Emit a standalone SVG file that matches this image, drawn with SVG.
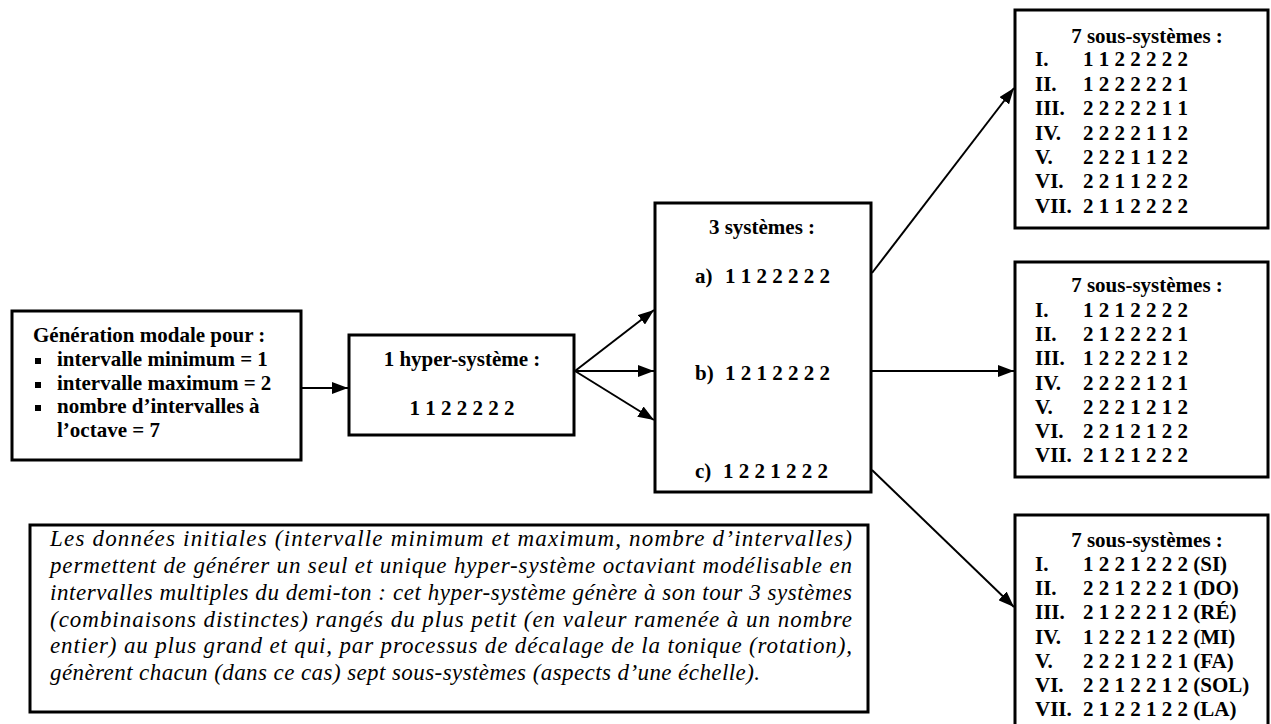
<svg xmlns="http://www.w3.org/2000/svg" width="1271" height="724" viewBox="0 0 1271 724">
<defs>
<style>
.box{fill:#fff;stroke:#000;stroke-width:3}
.b{font-family:"Liberation Serif","Times New Roman",serif;font-weight:bold;font-size:21px;fill:#000}
.c{text-anchor:middle}
.it{font-family:"Liberation Serif","Times New Roman",serif;font-style:italic;font-size:23px;fill:#000}
.conn line{stroke:#000;stroke-width:2;marker-end:url(#ah)}
</style>
<marker id="ah" markerWidth="16" markerHeight="12" refX="16" refY="6" orient="auto" markerUnits="userSpaceOnUse"><path d="M0,0 L16,6 L0,12 z" fill="#000"/></marker>
</defs>
<rect width="1271" height="724" fill="#fff"/>
<g class="conn" id="connectors">
<line x1="301" y1="388" x2="348" y2="388"/>
<line x1="575" y1="371" x2="654" y2="310"/>
<line x1="575" y1="371" x2="654" y2="371"/>
<line x1="575" y1="371" x2="654" y2="420"/>
<line x1="872" y1="273" x2="1014" y2="88"/>
<line x1="871" y1="371" x2="1014" y2="371"/>
<line x1="872" y1="470" x2="1014" y2="607"/>
</g>
<g id="generation">
<rect class="box" x="12" y="311" width="289" height="149"/>
<text class="b" x="33" y="342">Génération modale pour :</text>
<rect x="35" y="358" width="6" height="6"/>
<rect x="35" y="382" width="6" height="6"/>
<rect x="35" y="405" width="6" height="6"/>
<text class="b" x="57" y="366">intervalle minimum = 1</text>
<text class="b" x="57" y="390">intervalle maximum = 2</text>
<text class="b" x="57" y="413">nombre d’intervalles à</text>
<text class="b" x="57" y="437">l’octave = 7</text>
</g>
<g id="hyper">
<rect class="box" x="349" y="335" width="225" height="100"/>
<text class="b c" x="462" y="366">1 hyper-système :</text>
<text class="b c" x="462" y="415">1 1 2 2 2 2 2</text>
</g>
<g id="systemes">
<rect class="box" x="655" y="203" width="216" height="289"/>
<text class="b c" x="762" y="234">3 systèmes :</text>
<text class="b" x="695" y="283">a)</text><text class="b" x="725" y="283">1 1 2 2 2 2 2</text>
<text class="b" x="695" y="380">b)</text><text class="b" x="725" y="380">1 2 1 2 2 2 2</text>
<text class="b" x="695" y="478">c)</text><text class="b" x="723" y="478">1 2 2 1 2 2 2</text>
</g>
<g id="sous1">
<rect class="box" x="1015" y="10" width="253" height="218"/>
<text class="b c" x="1147" y="43">7 sous-systèmes :</text>
<text class="b" x="1035" y="66">I.</text><text class="b" x="1083" y="66">1 1 2 2 2 2 2</text>
<text class="b" x="1035" y="91">II.</text><text class="b" x="1083" y="91">1 2 2 2 2 2 1</text>
<text class="b" x="1035" y="115">III.</text><text class="b" x="1083" y="115">2 2 2 2 2 1 1</text>
<text class="b" x="1035" y="140">IV.</text><text class="b" x="1083" y="140">2 2 2 2 1 1 2</text>
<text class="b" x="1035" y="164">V.</text><text class="b" x="1083" y="164">2 2 2 1 1 2 2</text>
<text class="b" x="1035" y="188">VI.</text><text class="b" x="1083" y="188">2 2 1 1 2 2 2</text>
<text class="b" x="1035" y="213">VII.</text><text class="b" x="1083" y="213">2 1 1 2 2 2 2</text>
</g>
<g id="sous2">
<rect class="box" x="1015" y="262" width="253" height="215"/>
<text class="b c" x="1147" y="292">7 sous-systèmes :</text>
<text class="b" x="1035" y="317">I.</text><text class="b" x="1083" y="317">1 2 1 2 2 2 2</text>
<text class="b" x="1035" y="341">II.</text><text class="b" x="1083" y="341">2 1 2 2 2 2 1</text>
<text class="b" x="1035" y="365">III.</text><text class="b" x="1083" y="365">1 2 2 2 2 1 2</text>
<text class="b" x="1035" y="390">IV.</text><text class="b" x="1083" y="390">2 2 2 2 1 2 1</text>
<text class="b" x="1035" y="414">V.</text><text class="b" x="1083" y="414">2 2 2 1 2 1 2</text>
<text class="b" x="1035" y="438">VI.</text><text class="b" x="1083" y="438">2 2 1 2 1 2 2</text>
<text class="b" x="1035" y="462">VII.</text><text class="b" x="1083" y="462">2 1 2 1 2 2 2</text>
</g>
<g id="sous3">
<rect class="box" x="1015" y="515" width="253" height="220"/>
<text class="b c" x="1147" y="547">7 sous-systèmes :</text>
<text class="b" x="1035" y="571">I.</text><text class="b" x="1083" y="571">1 2 2 1 2 2 2 (SI)</text>
<text class="b" x="1035" y="595">II.</text><text class="b" x="1083" y="595">2 2 1 2 2 2 1 (DO)</text>
<text class="b" x="1035" y="619">III.</text><text class="b" x="1083" y="619">2 1 2 2 2 1 2 (RÉ)</text>
<text class="b" x="1035" y="644">IV.</text><text class="b" x="1083" y="644">1 2 2 2 1 2 2 (MI)</text>
<text class="b" x="1035" y="668">V.</text><text class="b" x="1083" y="668">2 2 2 1 2 2 1 (FA)</text>
<text class="b" x="1035" y="692">VI.</text><text class="b" x="1083" y="692">2 2 1 2 2 1 2 (SOL)</text>
<text class="b" x="1035" y="716">VII.</text><text class="b" x="1083" y="716">2 1 2 2 1 2 2 (LA)</text>
</g>
<g id="note">
<rect class="box" x="30" y="525" width="838" height="187"/>
<text class="it" x="50" y="546" textLength="802" lengthAdjust="spacing">Les données initiales (intervalle minimum et maximum, nombre d’intervalles)</text>
<text class="it" x="50" y="573" textLength="802" lengthAdjust="spacing">permettent de générer un seul et unique hyper-système octaviant modélisable en</text>
<text class="it" x="50" y="600" textLength="802" lengthAdjust="spacing">intervalles multiples du demi-ton : cet hyper-système génère à son tour 3 systèmes</text>
<text class="it" x="50" y="627" textLength="802" lengthAdjust="spacing">(combinaisons distinctes) rangés du plus petit (en valeur ramenée à un nombre</text>
<text class="it" x="50" y="653" textLength="802" lengthAdjust="spacing">entier) au plus grand et qui, par processus de décalage de la tonique (rotation),</text>
<text class="it" x="50" y="680" textLength="710" lengthAdjust="spacing">génèrent chacun (dans ce cas) sept sous-systèmes (aspects d’une échelle).</text>
</g>
</svg>
